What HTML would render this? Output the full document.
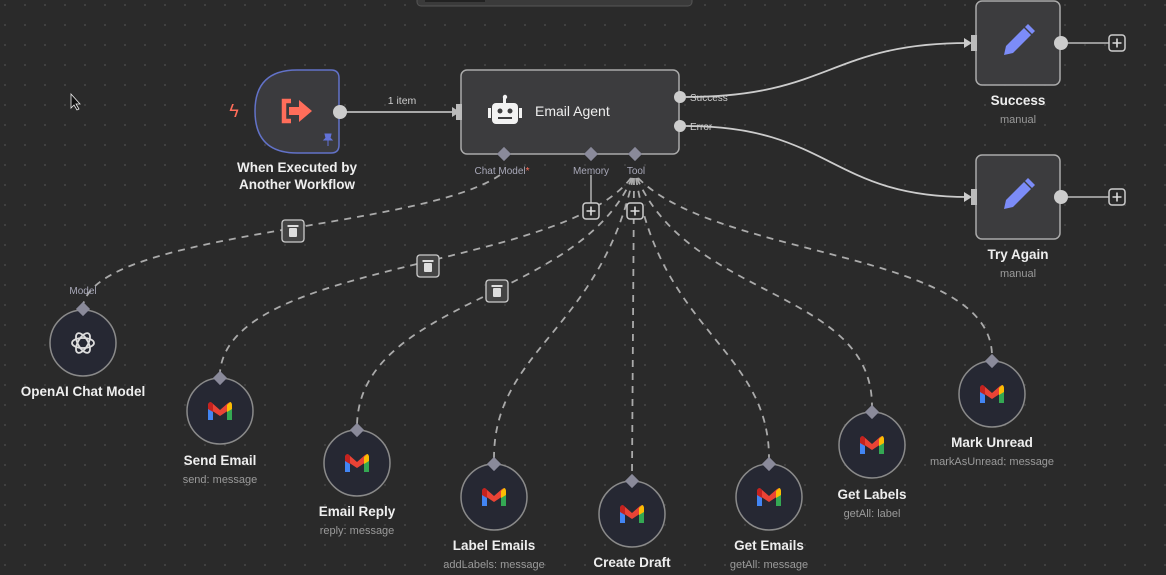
<!DOCTYPE html>
<html><head><meta charset="utf-8"><style>
html,body{margin:0;padding:0;background:#2a2a2a;}
svg{display:block;font-family:"Liberation Sans",sans-serif;}
.t{fill:#eee;font-size:13.5px;font-weight:bold;text-anchor:middle}
.s{fill:#9a9a9a;font-size:11px;text-anchor:middle}
.p{fill:#a8a8b8;font-size:10px;text-anchor:middle}
.d{fill:none;stroke:#aaa;stroke-width:1.8;stroke-dasharray:7 6}
.c{fill:#262833;stroke:#8a8a8a;stroke-width:1.5}
</style></head><body>
<svg width="1166" height="575" viewBox="0 0 1166 575" xmlns="http://www.w3.org/2000/svg">
<defs>
<pattern id="dots" width="20" height="20" patternUnits="userSpaceOnUse" x="4" y="4">
<circle cx="1" cy="1" r="0.9" fill="#505050"/></pattern>
<g id="gm">
<path d="M-12,-5 L-12,9 L-7,9 L-7,-2 Z" fill="#4285f4"/>
<path d="M12,-5 L12,9 L7,9 L7,-2 Z" fill="#34a853"/>
<path d="M-12,-5 Q-12,-10 -8,-8 L0,-1 L8,-8 Q12,-10 12,-5 L12,-3 L0,5 L-12,-3 Z" fill="#ea4335"/>
<path d="M7,-6 L10,-9 Q12,-9 12,-5 L12,-2 L7,1 Z" fill="#fbbc04"/>
<path d="M-12,-5 Q-12,-9 -9,-9 L-7,-7 L-7,1 L-12,-2 Z" fill="#c5221f"/>
</g>
<g id="dia"><rect x="-5" y="-5" width="10" height="10" transform="rotate(45)" fill="#8a8a9a"/></g>
<g id="pen"><path d="M-14,12 L-12,3 L6,-15 L13,-8 L-5,10 Z" fill="#7c8cf8"/><path d="M7,-16 L10,-19 L17,-12 L14,-9 Z" fill="#7c8cf8"/></g>
<g id="plus"><rect x="-8" y="-8" width="16" height="16" rx="3" fill="#2a2a2a" stroke="#ccc" stroke-width="1.5"/><path d="M0,-4.5V4.5M-4.5,0H4.5" stroke="#ddd" stroke-width="1.6"/></g>
<g id="trash"><rect x="-11" y="-11" width="22" height="22" rx="3" fill="#444" stroke="#ccc" stroke-width="1.3"/><rect x="-4" y="-3" width="8" height="9" rx="1" fill="#ddd"/><rect x="-5.5" y="-6" width="11" height="2" fill="#ddd"/></g>
</defs>
<rect width="1166" height="575" fill="#2a2a2a"/>
<rect width="1166" height="575" fill="url(#dots)"/>
<rect x="417" y="-6" width="275" height="12" rx="4" fill="#3a3a3a" stroke="#555"/>
<rect x="425" y="-6" width="60" height="8" fill="#222"/>

<line x1="340" y1="112" x2="452" y2="112" stroke="#bbb" stroke-width="1.8"/>
<path d="M452,107 L460,112 L452,117Z" fill="#bbb"/>
<text x="402" y="104" class="p" style="fill:#ccc;font-size:10.5px">1 item</text>
<path d="M686,97 C830,97 830,43 968,43" fill="none" stroke="#ccc" stroke-width="1.8"/>
<path d="M964,38 L972,43 L964,48Z" fill="#ccc"/>
<path d="M686,126 C830,126 830,197 968,197" fill="none" stroke="#ccc" stroke-width="1.8"/>
<path d="M964,192 L972,197 L964,202Z" fill="#ccc"/>
<line x1="1061" y1="43" x2="1109" y2="43" stroke="#bbb" stroke-width="1.5"/>
<line x1="1061" y1="197" x2="1109" y2="197" stroke="#bbb" stroke-width="1.5"/>
<line x1="591" y1="175" x2="591" y2="203" stroke="#aaa" stroke-width="1.6"/>

<path class="d" d="M500,175 C420,230 100,230 83,305"/>
<path class="d" d="M631,178 C560,270 230,260 220,372"/>
<path class="d" d="M632,178 C580,300 360,300 357,425"/>
<path class="d" d="M633,178 C600,330 494,350 494,458"/>
<path class="d" d="M634,178 L632,474"/>
<path class="d" d="M636,178 C660,330 769,350 769,458"/>
<path class="d" d="M637,178 C690,300 872,290 872,406"/>
<path class="d" d="M638,178 C720,260 990,250 992,355"/>

<text x="234" y="117" style="fill:#ff6d5a;font-size:18px" text-anchor="middle">ϟ</text>
<path d="M297,70 H331 Q339,70 339,78 V145 Q339,153 331,153 H297 Q255,153 255,111 Q255,70 297,70Z" fill="#3b3b3e" stroke="#6272c8" stroke-width="1.5"/>
<path d="M291,101 H284 V121 H291" fill="none" stroke="#ff6d5a" stroke-width="4.5"/>
<path d="M289,107 H299 V100 L312,111 L299,122 V115 H289Z" fill="#ff6d5a"/>
<path d="M325,134 L331,134 L330,138 L332,140 L324,140 L326,138Z M328,140 V146" fill="#6272d8" stroke="#6272d8" stroke-width="1"/>
<circle cx="340" cy="112" r="7" fill="#ccc"/>
<text x="297" y="172" class="t">When Executed by</text>
<text x="297" y="189" class="t">Another Workflow</text>

<rect x="461" y="70" width="218" height="84" rx="6" fill="#3c3c3e" stroke="#aaa" stroke-width="1.5"/>
<rect x="456" y="104" width="6" height="16" fill="#bbb"/>
<rect x="492" y="103" width="26" height="21" rx="4" fill="#f2f2f2"/>
<rect x="503" y="98" width="3" height="6" fill="#f2f2f2"/><circle cx="505" cy="97" r="2.2" fill="#f2f2f2"/>
<rect x="488" y="108" width="3" height="10" fill="#f2f2f2"/><rect x="519" y="108" width="3" height="10" fill="#f2f2f2"/>
<circle cx="500" cy="111" r="2.5" fill="#3c3c3e"/><circle cx="510" cy="111" r="2.5" fill="#3c3c3e"/>
<rect x="498" y="117" width="14" height="2" fill="#3c3c3e"/>
<text x="535" y="116" style="fill:#eee;font-size:14px">Email Agent</text>
<circle cx="680" cy="97" r="6" fill="#ccc"/><circle cx="680" cy="126" r="6" fill="#ccc"/>
<text x="690" y="101" style="fill:#ccc;font-size:10px">Success</text>
<text x="690" y="130" style="fill:#ccc;font-size:10px">Error</text>
<use href="#dia" x="504" y="154"/><use href="#dia" x="591" y="154"/><use href="#dia" x="635" y="154"/>
<text x="502" y="174" class="p">Chat Model<tspan fill="#ff6d5a">*</tspan></text>
<text x="591" y="174" class="p">Memory</text>
<text x="636" y="174" class="p">Tool</text>
<use href="#plus" x="591" y="211"/><use href="#plus" x="635" y="211"/>
<use href="#trash" x="293" y="231"/><use href="#trash" x="428" y="266"/><use href="#trash" x="497" y="291"/>

<rect x="976" y="1" width="84" height="84" rx="6" fill="#3c3c3e" stroke="#aaa" stroke-width="1.5"/>
<rect x="971" y="35" width="6" height="16" fill="#bbb"/>
<use href="#pen" x="1018" y="43"/>
<circle cx="1061" cy="43" r="7" fill="#ccc"/><use href="#plus" x="1117" y="43"/>
<text x="1018" y="105" class="t">Success</text><text x="1018" y="123" class="s">manual</text>
<rect x="976" y="155" width="84" height="84" rx="6" fill="#3c3c3e" stroke="#aaa" stroke-width="1.5"/>
<rect x="971" y="189" width="6" height="16" fill="#bbb"/>
<use href="#pen" x="1018" y="197"/>
<circle cx="1061" cy="197" r="7" fill="#ccc"/><use href="#plus" x="1117" y="197"/>
<text x="1018" y="259" class="t">Try Again</text><text x="1018" y="277" class="s">manual</text>

<text x="83" y="294" class="p">Model</text>
<circle cx="83" cy="343" r="33" class="c"/><use href="#dia" x="83" y="309"/>
<g fill="none" stroke="#ddd" stroke-width="1.8">
<ellipse cx="83" cy="343" rx="11" ry="5"/><ellipse cx="83" cy="343" rx="11" ry="5" transform="rotate(60 83 343)"/><ellipse cx="83" cy="343" rx="11" ry="5" transform="rotate(120 83 343)"/></g>
<text x="83" y="396" class="t">OpenAI Chat Model</text>

<circle cx="220" cy="411" r="33" class="c"/><use href="#dia" x="220" y="378"/><use href="#gm" x="220" y="411"/>
<text x="220" y="465" class="t">Send Email</text><text x="220" y="483" class="s">send: message</text>
<circle cx="357" cy="463" r="33" class="c"/><use href="#dia" x="357" y="430"/><use href="#gm" x="357" y="463"/>
<text x="357" y="516" class="t">Email Reply</text><text x="357" y="534" class="s">reply: message</text>
<circle cx="494" cy="497" r="33" class="c"/><use href="#dia" x="494" y="464"/><use href="#gm" x="494" y="497"/>
<text x="494" y="550" class="t">Label Emails</text><text x="494" y="568" class="s">addLabels: message</text>
<circle cx="632" cy="514" r="33" class="c"/><use href="#dia" x="632" y="481"/><use href="#gm" x="632" y="514"/>
<text x="632" y="567" class="t">Create Draft</text>
<circle cx="769" cy="497" r="33" class="c"/><use href="#dia" x="769" y="464"/><use href="#gm" x="769" y="497"/>
<text x="769" y="550" class="t">Get Emails</text><text x="769" y="568" class="s">getAll: message</text>
<circle cx="872" cy="445" r="33" class="c"/><use href="#dia" x="872" y="412"/><use href="#gm" x="872" y="445"/>
<text x="872" y="499" class="t">Get Labels</text><text x="872" y="517" class="s">getAll: label</text>
<circle cx="992" cy="394" r="33" class="c"/><use href="#dia" x="992" y="361"/><use href="#gm" x="992" y="394"/>
<text x="992" y="447" class="t">Mark Unread</text><text x="992" y="465" class="s">markAsUnread: message</text>

<path d="M71,94 L71,108 L74,105 L77,110 L79,109 L76,104 L80,104Z" fill="#111" stroke="#eee" stroke-width="0.8"/>
</svg>
</body></html>
